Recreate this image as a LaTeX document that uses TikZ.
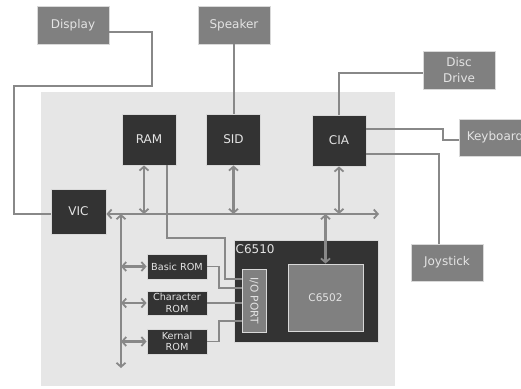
\documentclass[tikz,border=0pt]{standalone}
\usepackage{fontspec}
\setmainfont{DejaVu Sans}
\usetikzlibrary{arrows.meta}
\definecolor{bgc}{HTML}{E6E6E6}
\definecolor{darkc}{HTML}{333333}
\definecolor{greyc}{HTML}{808080}
\definecolor{linec}{HTML}{888888}
\definecolor{txtc}{HTML}{E4E4E4}
\tikzset{
  base/.style={draw=white!85!black, line width=0.8pt, text=txtc, inner sep=0pt, align=center},
  extbox/.style={base, fill=greyc, minimum width=72pt, minimum height=38pt, font=\fontsize{12}{16}\selectfont},
  chipbox/.style={base, fill=darkc, minimum width=54pt, minimum height=51pt, font=\fontsize{12}{16}\selectfont},
  rombox/.style={base, fill=darkc, minimum width=60pt, minimum height=25pt, font=\fontsize{9.7}{11.7}\selectfont},
  wire/.style={draw=linec, line width=2.4pt},
  thin/.style={draw=linec, line width=1.6pt},
  tip/.style={-{Straight Barb[length=4pt,width=9pt,line width=1.8pt]}},
  dbl/.style={{Straight Barb[length=4pt,width=9pt,line width=1.8pt]}-{Straight Barb[length=4pt,width=9pt,line width=1.8pt]}},
}
\begin{document}
\begin{tikzpicture}[x=1pt,y=-1pt]
\useasboundingbox (0,0) rectangle (521,388);
\fill[white] (0,0) rectangle (521,388);
\fill[bgc] (41,92) rectangle (395,386);

% external devices
\node[extbox] (display) at (73,25) {Display};
\node[extbox] (speaker) at (234,25) {Speaker};
\node[extbox] (disc) at (459,70) {Disc\\Drive};
\node[extbox, minimum height=37pt] (keyboard) at (495,137.5) {Keyboard};
\node[extbox, minimum height=37pt] (joystick) at (447,262.5) {Joystick};

% chips
\node[chipbox] (ram) at (149,139.5) {RAM};
\node[chipbox] (sid) at (233.5,139.5) {SID};
\node[chipbox] (cia) at (339,140.5) {CIA};
\node[chipbox, minimum width=55pt, minimum height=45pt] (vic) at (78.5,211.5) {VIC};

% ROMs
\node[rombox] (basic) at (177,266.5) {Basic ROM};
\node[rombox, minimum height=24pt] (char) at (177,303) {Character\\ROM};
\node[rombox] (kernal) at (177,341.5) {Kernal\\ROM};

% CPU
\node[base, fill=darkc, minimum width=144pt, minimum height=102pt] (c6510) at (306,291) {};
\node[text=txtc, anchor=west, inner sep=0pt, font=\fontsize{12}{14}\selectfont] (c6510lbl) at (235.5,249) {C6510};
\node[base, fill=greyc, minimum width=24pt, minimum height=63pt] (io) at (254,300.5) {};
\node[text=txtc, rotate=-90, inner sep=0pt, font=\fontsize{10.6}{12}\selectfont] (iolbl) at (io.center) {I/O PORT};
\node[base, fill=greyc, minimum width=75pt, minimum height=67pt, font=\fontsize{10.5}{12}\selectfont] (c6502) at (325.5,297.5) {C6502};

% bus coordinates
\coordinate (busR) at (379,214);
\coordinate (vbusB) at (121,368);

% main data bus
\draw[wire, dbl] ([yshift=-2.5pt]vic.east) -- (busR);
\draw[wire, dbl] (121,214) -- (vbusB);

% chip to bus
\draw[wire, dbl] ([xshift=-5pt]ram.south) -- ([xshift=-5pt]ram.south |- busR);
\draw[wire, dbl] (sid.south) -- (sid.south |- busR);
\draw[wire, dbl] (cia.south) -- (cia.south |- busR);
\draw[wire, dbl] (c6502.north) -- (c6502.north |- busR);

% ROMs to vertical bus
\draw[wire, dbl] (basic.west -| vbusB) -- (basic.west);
\draw[wire, dbl] (char.west -| vbusB) -- (char.west);
\draw[wire, dbl] (kernal.west -| vbusB) -- (kernal.west);

% thin lines to I/O port
\draw[thin] ([xshift=18pt]ram.south) -- (167,238) -- (225,238) -- (225,279) -- (io.west |- 0,279);
\draw[thin] (basic.east) -- (219,266.5) -- (219,288) -- (io.west |- 0,288);
\draw[thin] (char.east) -- (io.west |- char.east);
\draw[thin] (kernal.east) -- (219,341.5) -- (219,321) -- (io.west |- 0,321);

% external connections
\draw[wire] ([yshift=-7pt]display.east) -- (152,32) -- (152,86) -- (14,86) -- (14,214) -- ([yshift=-2.5pt]vic.west);
\draw[wire] (speaker.south) -- (sid.north -| speaker.south);
\draw[wire] (cia.north) -- (339,73) -- (disc.west |- 0,73);
\draw[wire] ([yshift=11.5pt]cia.east) -- (443,129) -- (443,140) -- (keyboard.west |- 0,140);
\draw[wire] ([yshift=-13.5pt]cia.east) -- (439,154) -- (joystick.north -| 439,0);
\end{tikzpicture}
\end{document}
